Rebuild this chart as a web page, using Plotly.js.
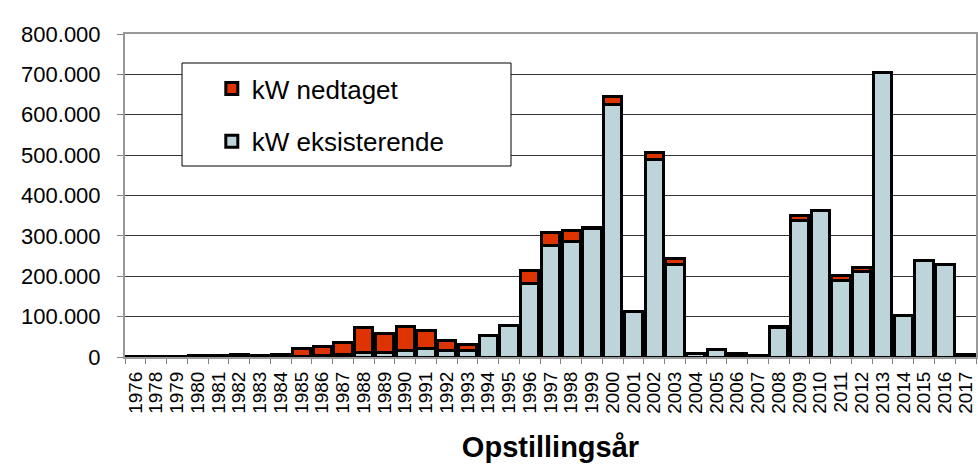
<!DOCTYPE html>
<html>
<head>
<meta charset="utf-8">
<script src="https://cdn.plot.ly/plotly-3.0.1.min.js"></script>
<style>
html,body{margin:0;padding:0;background:#fff;}
#chart{width:978px;height:465px;}
</style>
</head>
<body>
<div id="chart"></div>
<script>
const years = ['1976','1978','1979','1980','1981','1982','1983','1984','1985','1986','1987','1988','1989','1990','1991','1992','1993','1994','1995','1996','1997','1998','1999','2000','2001','2002','2003','2004','2005','2006','2007','2008','2009','2010','2011','2012','2013','2014','2015','2016','2017'];

const kwEksisterende = [500,1000,1500,2500,3000,5000,3000,5000,2000,3000,5000,12000,12000,15000,20000,15000,15000,54000,79000,183000,275000,286000,319000,626000,112000,490000,230000,8000,19000,7000,3000,72000,339000,362000,189000,212000,704000,104000,239000,228000,5000];

const kwNedtaget = [0,0,0,0,0,0,0,0,20000,22000,32000,61000,46000,61000,45000,27000,17000,0,0,32000,34000,28000,2000,18000,0,17000,15000,0,0,2000,0,3000,11000,0,14000,9000,0,0,0,0,0];

const yTickVals = [0,100000,200000,300000,400000,500000,600000,700000,800000];

const FONT = 'Liberation Sans, Arial, sans-serif';

const traces = [
  {
    type: 'bar',
    name: 'kW eksisterende',
    x: years,
    y: kwEksisterende,
    legendgroup: 'b',
    legendrank: 2,
    marker: {color: '#BDD5DA', line: {color: '#000000', width: 3}}
  },
  {
    type: 'bar',
    name: 'kW nedtaget',
    x: years,
    y: kwNedtaget,
    legendgroup: 'a',
    legendrank: 1,
    marker: {color: '#DD3300', line: {color: '#000000', width: 3}}
  }
];

const layout = {
  width: 978,
  height: 465,
  margin: {l: 125, r: 2, t: 34, b: 108},
  paper_bgcolor: '#ffffff',
  plot_bgcolor: '#ffffff',
  barmode: 'stack',
  bargap: 0.12,
  separators: ',.',
  font: {family: FONT, color: '#000000'},
  showlegend: true,
  legend: {
    x: 0.102, y: 0.904, xanchor: 'left', yanchor: 'top',
    bgcolor: 'rgba(0,0,0,0)',
    borderwidth: 0,
    font: {family: FONT, size: 26, color: '#000000'},
    traceorder: 'grouped',
    tracegroupgap: 16
  },
  xaxis: {
    type: 'category',
    tickmode: 'linear',
    dtick: 1,
    tickangle: -90,
    tickfont: {family: FONT, size: 19, color: '#000000'},
    ticks: 'outside',
    tickson: 'boundaries',
    ticklen: 5,
    tickcolor: '#808080',
    ticklabelstandoff: 5,
    showline: true,
    linecolor: '#999999',
    linewidth: 2,
    mirror: true,
    showgrid: false,
    title: {text: '<b>Opstillingsår</b>', font: {family: FONT, size: 29, color: '#000000'}, standoff: 24},
    fixedrange: true
  },
  yaxis: {
    range: [0, 800000],
    tickvals: yTickVals,
    tickformat: ',d',
    tickfont: {family: FONT, size: 22, color: '#000000'},
    ticks: 'outside',
    ticklen: 6,
    tickcolor: '#808080',
    ticklabelstandoff: 12,
    showline: true,
    linecolor: '#999999',
    linewidth: 2,
    mirror: true,
    showgrid: true,
    gridcolor: '#333333',
    gridwidth: 1,
    zeroline: false,
    fixedrange: true
  },
  shapes: [
    {
      type: 'rect', xref: 'paper', yref: 'paper',
      x0: 0.067, x1: 0.4536, y0: 0.5913, y1: 0.9102,
      fillcolor: '#ffffff',
      line: {color: '#000000', width: 1},
      layer: 'above'
    }
  ]
};

Plotly.newPlot('chart', traces, layout, {displayModeBar: false, staticPlot: true});
</script>
</body>
</html>
